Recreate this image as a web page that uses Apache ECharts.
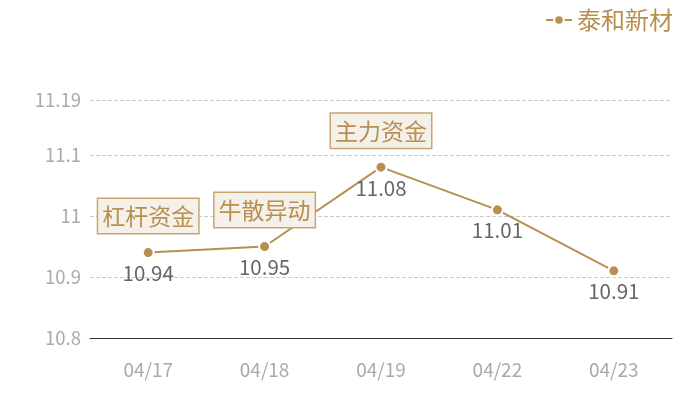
<!DOCTYPE html>
<html><head><meta charset="utf-8">
<script src="https://cdn.jsdelivr.net/npm/echarts@6/dist/echarts.min.js"></script>
<style>html,body{margin:0;padding:0;background:#fff}#c{width:700px;height:400px}</style>
</head><body><div id="c"></div>
<script>
var categories = ['04/17','04/18','04/19','04/22','04/23'];
var prices = [10.94, 10.95, 11.08, 11.01, 10.91];
var seriesName = '泰和新材';
var eventDates = ['04/17','04/18','04/19'];
var eventValues = [10.94, 10.95, 11.08];
var eventLabels = ['杠杆资金','牛散异动','主力资金'];

var gold = '#b88f4f';
var font = '"Noto Sans CJK SC", "Noto Sans", sans-serif';
var chart = echarts.init(document.getElementById('c'));
chart.setOption({
  animation: false,
  textStyle: {fontFamily: font},
  legend: {
    top: 3, right: 22,
    itemWidth: 26, itemHeight: 12, itemGap: 8,
    textStyle: {color: gold, fontSize: 24, fontFamily: font},
    data: [seriesName]
  },
  grid: {left: 90, right: 28, top: 100, bottom: 62},
  xAxis: {
    type: 'category',
    data: categories,
    axisLine: {lineStyle: {color: '#333'}},
    axisTick: {show: false},
    axisLabel: {color: '#aaa', fontSize: 19, margin: 22, fontFamily: font}
  },
  yAxis: {
    type: 'value',
    min: 10.8, max: 11.19, interval: 0.1,
    axisLine: {show: false},
    axisTick: {show: false},
    axisLabel: {color: '#aaa', fontSize: 18.5, margin: 9, fontFamily: font,
      showMaxLabel: true},
    splitLine: {lineStyle: {color: '#ccc', type: 'dashed'}}
  },
  series: [{
    name: seriesName,
    type: 'line',
    data: prices,
    symbol: 'circle',
    symbolSize: 11,
    itemStyle: {color: gold, borderColor: '#fff', borderWidth: 2},
    lineStyle: {color: gold, width: 2},
    label: {show: true, position: 'bottom', distance: 4, color: '#666', fontSize: 20.5, fontFamily: font},
    markPoint: {
      symbol: 'circle',
      symbolSize: 1,
      itemStyle: {color: 'rgba(0,0,0,0)'},
      label: {
        show: true,
        position: 'top',
        distance: 19,
        formatter: '{b}',
        color: gold,
        fontSize: 23,
        fontFamily: font,
        backgroundColor: '#f4f0ea',
        borderColor: '#c9a56e',
        borderWidth: 1.5,
        padding: [6, 4, 5, 4]
      },
      data: eventLabels.map(function (t, i) {
        return {name: t, coord: [eventDates[i], eventValues[i]]};
      })
    }
  }]
});
</script></body></html>
